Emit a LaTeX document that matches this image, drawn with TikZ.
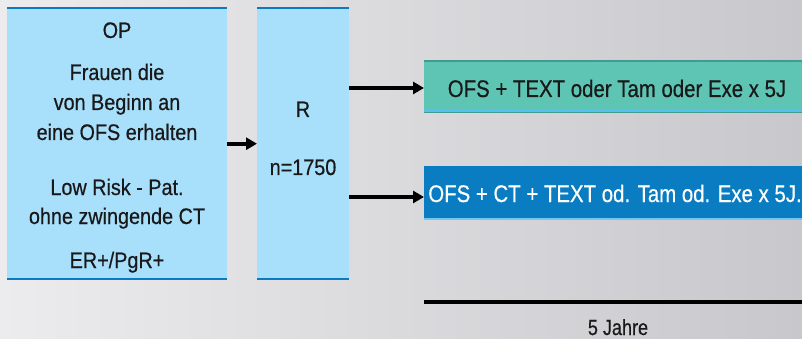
\documentclass[tikz,border=0pt]{standalone}
\usepackage{fontspec}
\setmainfont{Liberation Sans}
\newfontfamily\optxtfont{Liberation Sans}[FakeStretch=0.88,FakeBold=0.5]
\newfontfamily\narrowfont{Liberation Sans}[FakeStretch=0.85,FakeBold=0.5]
\newfontfamily\yearfont{Liberation Sans}[FakeStretch=0.82,FakeBold=0.5]
\usetikzlibrary{arrows.meta,calc}
\definecolor{bgL}{HTML}{ECECEE}
\definecolor{bgR}{HTML}{C8C8CC}
\definecolor{lbfill}{HTML}{A8DFFB}
\definecolor{dkblue}{HTML}{0A7BC1}
\definecolor{tealfill}{HTML}{5EC5B5}
\definecolor{tealdark}{HTML}{3F9C8F}
\definecolor{skyline}{HTML}{58C0F0}
\definecolor{bluefill}{HTML}{0A7CC2}
\definecolor{bluelite}{HTML}{70C8F2}
\tikzset{
  lbbox/.style={fill=lbfill, draw=none, inner sep=0pt, anchor=north west},
  edgeline/.style={dkblue, line width=2pt},
  optext/.style={font=\optxtfont\fontsize{22.5}{26}\selectfont, anchor=base, inner sep=0pt, text=black!90},
  armtext/.style={font=\narrowfont\fontsize{24}{28}\selectfont, anchor=base, inner sep=0pt},
  arr/.style={line width=4pt, -{Triangle[length=11pt,width=12pt]}},
}
\begin{document}
\begin{tikzpicture}[x=1pt,y=-1pt]
\useasboundingbox (0,0) rectangle (802,339);
\clip (0,0) rectangle (802,339);
\shade[left color=bgL, right color=bgR] (0,0) rectangle (802,339);
% OP box
\node[lbbox, minimum width=220pt, minimum height=273pt] (op) at (7,7) {};
\draw[edgeline] ([yshift=-1pt]op.north west) -- ([yshift=-1pt]op.north east);
\draw[edgeline] ([yshift=1pt]op.south west) -- ([yshift=1pt]op.south east);
\node[optext] (t1) at (117,38) {OP};
\node[optext] (t2) at (117,80) {Frauen die};
\node[optext] (t3) at (117,110) {von Beginn an};
\node[optext] (t4) at (117,140) {eine OFS erhalten};
\node[optext] (t5) at (117,195) {Low Risk - Pat.};
\node[optext] (t6) at (117,224) {ohne zwingende CT};
\node[optext] (t7) at (117,268) {ER+/PgR+};
% R box
\node[lbbox, minimum width=92pt, minimum height=273pt] (r) at (257,7) {};
\draw[edgeline] ([yshift=-1pt]r.north west) -- ([yshift=-1pt]r.north east);
\draw[edgeline] ([yshift=1pt]r.south west) -- ([yshift=1pt]r.south east);
\node[optext] (r1) at (303,117) {R};
\node[optext] (r2) at (303,175) {n=1750};
% arm boxes
\node[fill=tealfill, minimum width=390pt, minimum height=53pt, inner sep=0pt, anchor=north west] (g) at (424,60) {};
\draw[tealdark, line width=2pt] ([yshift=-1pt]g.north west) -- ([yshift=-1pt]g.north east);
\draw[tealdark, line width=1.5pt] ([yshift=0.75pt]g.south west) -- ([yshift=0.75pt]g.south east);
\draw[skyline, line width=1.5pt] ([yshift=2.25pt]g.south west) -- ([yshift=2.25pt]g.south east);
\node[armtext, text=black!90] (gt) at (617,97) {OFS + TEXT oder Tam oder Exe x 5J};
\node[fill=bluefill, minimum width=390pt, minimum height=54pt, inner sep=0pt, anchor=north west] (b) at (424,166) {};
\draw[bluelite, line width=2pt] ([yshift=1pt]b.south west) -- ([yshift=1pt]b.south east);
\node[armtext, text=white] (bt) at (615,202) {OFS + CT + TEXT od. Tam od. Exe x 5J.};
% arrows
\draw[arr] (op.east) -- (r.west);
\coordinate (a1) at (349,88);
\coordinate (a2) at (349,197);
\draw[arr] (a1) -- (a1 -| g.west);
\draw[arr] (a2) -- (a2 -| b.west);
% timeline
\coordinate (l0) at (424,302);
\coordinate (l1) at (810,302);
\draw[line width=3.5pt] (l0) -- (l1);
\node[anchor=base, inner sep=0pt, font=\yearfont\fontsize{22}{26}\selectfont, text=black!90] (jt) at (618,335) {5 Jahre};
\end{tikzpicture}
\end{document}
